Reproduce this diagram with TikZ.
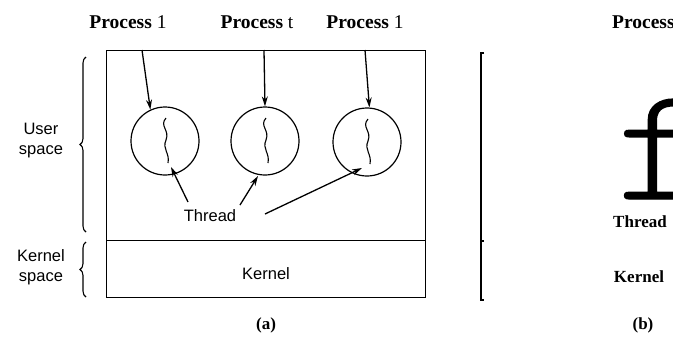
\documentclass[tikz,border=0pt]{standalone}
\usepackage{fontspec}
\setmainfont{Liberation Serif}
\newfontfamily\sansf{Liberation Sans}
\newfontfamily\lightmono[FakeBold=0.8]{lmmonolt10-regular.otf}
\usetikzlibrary{arrows.meta,decorations.pathreplacing}
\begin{document}
\begin{tikzpicture}[x=1pt,y=-1pt,
  sanslbl/.style={font=\sansf\fontsize{16.5}{20}\selectfont, inner sep=0pt, align=center},
  proclbl/.style={font=\fontsize{19.5}{22}\selectfont, inner sep=0pt, anchor=base},
  boldlbl/.style={font=\bfseries\fontsize{17}{20}\selectfont, inner sep=0pt},
  frame/.style={draw, line width=1.4pt},
  thr/.style={circle, draw, line width=1.2pt, minimum size=68pt, inner sep=0pt},
  arr/.style={line width=1.3pt, -{Stealth[length=10pt,width=6pt]}},
  brc/.style={decorate, decoration={brace, amplitude=6pt}, line width=1.1pt},
  squig/.style={line width=1.1pt},
  threadwave/.pic={\draw[squig] (1,-23) .. controls (-6,-15) and (5,-11) .. (1,-1) .. controls (-3,8) and (5,12) .. (3,22);}]
\useasboundingbox (0,0) rectangle (673,338);
% (a) frame
\node[frame, anchor=north west, inner sep=0pt, minimum width=319pt, minimum height=190pt] (user) at (106,50) {};
\node[frame, anchor=north west, inner sep=0pt, minimum width=319pt, minimum height=57pt] (kern) at (106,240) {};
\node[sanslbl] (kernlbl) at (266,274) {Kernel};
% process labels
\node[proclbl] (p1) at (128,28) {\textbf{Process} 1};
\node[proclbl] (p2) at (257,28) {\textbf{Process} t};
\node[proclbl] (p3) at (365,28) {\textbf{Process} 1};
% threads
\node[thr] (c1) at (165,141) {};
\node[thr] (c2) at (265,141) {};
\node[thr] (c3) at (367,142) {};
\pic at (c1.center) {threadwave};
\pic at (c2.center) {threadwave};
\pic at (c3.center) {threadwave};
% process arrows
\coordinate (q1) at (142,50);
\coordinate (q2) at (264,50);
\coordinate (q3) at (365,50);
\draw[arr] (q1) -- (c1.115);
\draw[arr] (q2) -- (c2.north);
\draw[arr] (q3) -- (c3.86);
% thread label and arrows
\node[sanslbl] (thr) at (210,216) {Thread};
\coordinate (s1) at (188,202);
\coordinate (s2) at (240,205);
\coordinate (s3) at (265,214);
\coordinate (e1) at (171,167);
\coordinate (e2) at (258,176);
\coordinate (e3) at (362,168);
\draw[arr] (s1) -- (e1);
\draw[arr] (s2) -- (e2);
\draw[arr] (s3) -- (e3);
% braces
\coordinate (ub1) at (86,232);
\coordinate (ub2) at (86,57);
\coordinate (kb1) at (86,297);
\coordinate (kb2) at (86,242);
\draw[brc] (ub1) -- (ub2);
\draw[brc] (kb1) -- (kb2);
\node[sanslbl] (ulbl) at (41,141) {User\\space};
\node[sanslbl] (klbl) at (41,267) {Kernel\\space};
\node[boldlbl] (alab) at (266,325) {(a)};
% (b) partial
\coordinate (bt) at (481,53);
\coordinate (bm) at (481,241);
\coordinate (bb) at (481,300);
\draw[line width=1.4pt] (484,53) -- (bt) -- (bb) -- (484,300);
\draw[line width=1.4pt] (bm) -- ++(3,0);
\node[font=\bfseries\fontsize{19.5}{22}\selectfont, inner sep=0pt, anchor=base west] (pb) at (612,28) {Process};
\node[font=\lightmono\fontsize{162}{162}\selectfont, inner sep=0pt, anchor=base west] (bigf) at (617,199) {f};
\node[boldlbl] (tb) at (640,222) {Thread};
\node[boldlbl] (kb) at (639,277) {Kernel};
\node[boldlbl] (blab) at (643,325) {(b)};
\end{tikzpicture}
\end{document}
